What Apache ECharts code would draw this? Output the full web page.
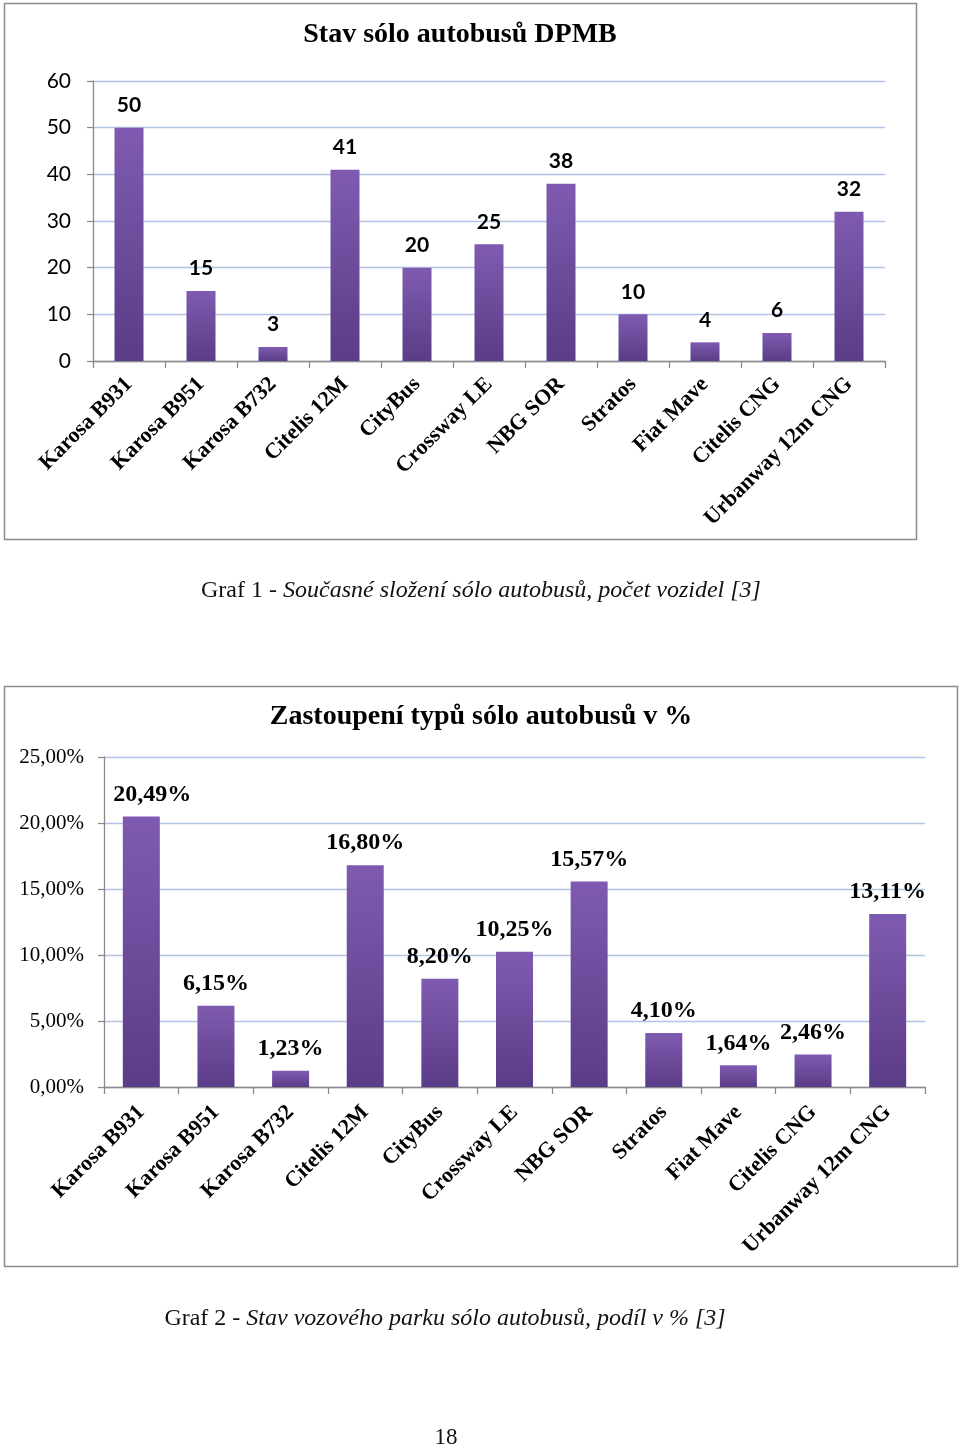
<!DOCTYPE html>
<html>
<head>
<meta charset="utf-8">
<script src="https://cdn.jsdelivr.net/npm/echarts@6/dist/echarts.min.js"></script>
<style>html,body{margin:0;padding:0;background:#fff}#c{width:960px;height:1450px}</style>
</head>
<body>
<div id="c"></div>
<script>
const categories = ["Karosa B931","Karosa B951","Karosa B732","Citelis 12M","CityBus","Crossway LE","NBG SOR","Stratos","Fiat Mave","Citelis CNG","Urbanway 12m CNG"];
const counts = [50,15,3,41,20,25,38,10,4,6,32];
const percents = [20.49,6.15,1.23,16.80,8.20,10.25,15.57,4.10,1.64,2.46,13.11];

const serif = '"Liberation Serif","Times New Roman",serif';
const sans = 'Lato,"Open Sans",sans-serif';
const fmtPct = v => Number(v).toFixed(2).replace('.', ',') + '%';
const barColor = new echarts.graphic.LinearGradient(0,0,0,1,[
  {offset:0,color:'#7e5bb0'},{offset:1,color:'#5b3c87'}]);
const gridLine = {show:true,lineStyle:{color:'#b4c3e3',width:1.3}};
const axisLineX = {show:true,lineStyle:{color:'#8a8a8a',width:1.3}};

const pctData = percents.map((v,i) => i === 0 ? {value:v,label:{offset:[11,0]}} : v);

const chart = echarts.init(document.getElementById('c'), null, {renderer:'canvas'});
chart.setOption({
  animation:false,
  graphic:[
    {type:'rect',shape:{x:4.5,y:3.5,width:912,height:536},style:{fill:'none',stroke:'#8c8c8c',lineWidth:1.5},z:-1},
    {type:'rect',shape:{x:4.5,y:686.5,width:953,height:580},style:{fill:'none',stroke:'#8c8c8c',lineWidth:1.5},z:-1}
  ],
  title:[
    {text:'Stav sólo autobusů DPMB',left:460,textAlign:'center',top:21,padding:0,
     textStyle:{fontFamily:serif,fontWeight:'bold',fontSize:28,color:'#000'}},
    {text:'Zastoupení typů sólo autobusů v %',left:481,textAlign:'center',top:703,padding:0,
     textStyle:{fontFamily:serif,fontWeight:'bold',fontSize:28,color:'#000'}},
    {text:'Graf 1 - {i|Současné složení sólo autobusů, počet vozidel [3]}',left:481,textAlign:'center',top:579,padding:0,
     textStyle:{fontFamily:serif,fontWeight:'normal',fontSize:24,color:'#111',
       rich:{i:{fontFamily:serif,fontStyle:'italic',fontSize:24,color:'#111'}}}},
    {text:'Graf 2 - {i|Stav vozového parku sólo autobusů, podíl v % [3]}',left:445,textAlign:'center',top:1307,padding:0,
     textStyle:{fontFamily:serif,fontWeight:'normal',fontSize:24,color:'#111',
       rich:{i:{fontFamily:serif,fontStyle:'italic',fontSize:24,color:'#111'}}}},
    {text:'18',left:446,textAlign:'center',top:1426,padding:0,
     textStyle:{fontFamily:serif,fontWeight:'normal',fontSize:23,color:'#111'}}
  ],
  grid:[
    {left:93,top:81,width:792,height:280},
    {left:104,top:757,width:821,height:330}
  ],
  xAxis:[
    {type:'category',gridIndex:0,data:categories,
     axisLine:axisLineX,axisTick:{show:true,length:7,lineStyle:{color:'#8a8a8a',width:1.3}},
     axisLabel:{rotate:45,interval:0,margin:20,fontFamily:serif,fontWeight:'bold',fontSize:22,color:'#000'}},
    {type:'category',gridIndex:1,data:categories,
     axisLine:axisLineX,axisTick:{show:true,length:7,lineStyle:{color:'#8a8a8a',width:1.3}},
     axisLabel:{rotate:45,interval:0,margin:22,fontFamily:serif,fontWeight:'bold',fontSize:22,color:'#000'}}
  ],
  yAxis:[
    {type:'value',gridIndex:0,min:0,max:60,interval:10,
     axisLine:axisLineX,axisTick:{show:true,length:6,lineStyle:{color:'#8a8a8a',width:1.3}},
     splitLine:gridLine,
     axisLabel:{margin:22,fontFamily:sans,fontSize:21,color:'#000'}},
    {type:'value',gridIndex:1,min:0,max:25,interval:5,
     axisLine:axisLineX,axisTick:{show:true,length:6,lineStyle:{color:'#8a8a8a',width:1.3}},
     splitLine:gridLine,
     axisLabel:{margin:20,fontFamily:serif,fontSize:21,color:'#000',formatter:fmtPct}}
  ],
  series:[
    {type:'bar',xAxisIndex:0,yAxisIndex:0,data:counts,barWidth:29,
     itemStyle:{color:barColor},
     label:{show:true,position:'top',distance:12,fontFamily:sans,fontWeight:'bold',fontSize:21,color:'#000'}},
    {type:'bar',xAxisIndex:1,yAxisIndex:1,data:pctData,barWidth:37,
     itemStyle:{color:barColor},
     label:{show:true,position:'top',distance:10,fontFamily:serif,fontWeight:'bold',fontSize:24,color:'#000',
       formatter:p=>fmtPct(p.value)}}
  ]
});
</script>
</body>
</html>
